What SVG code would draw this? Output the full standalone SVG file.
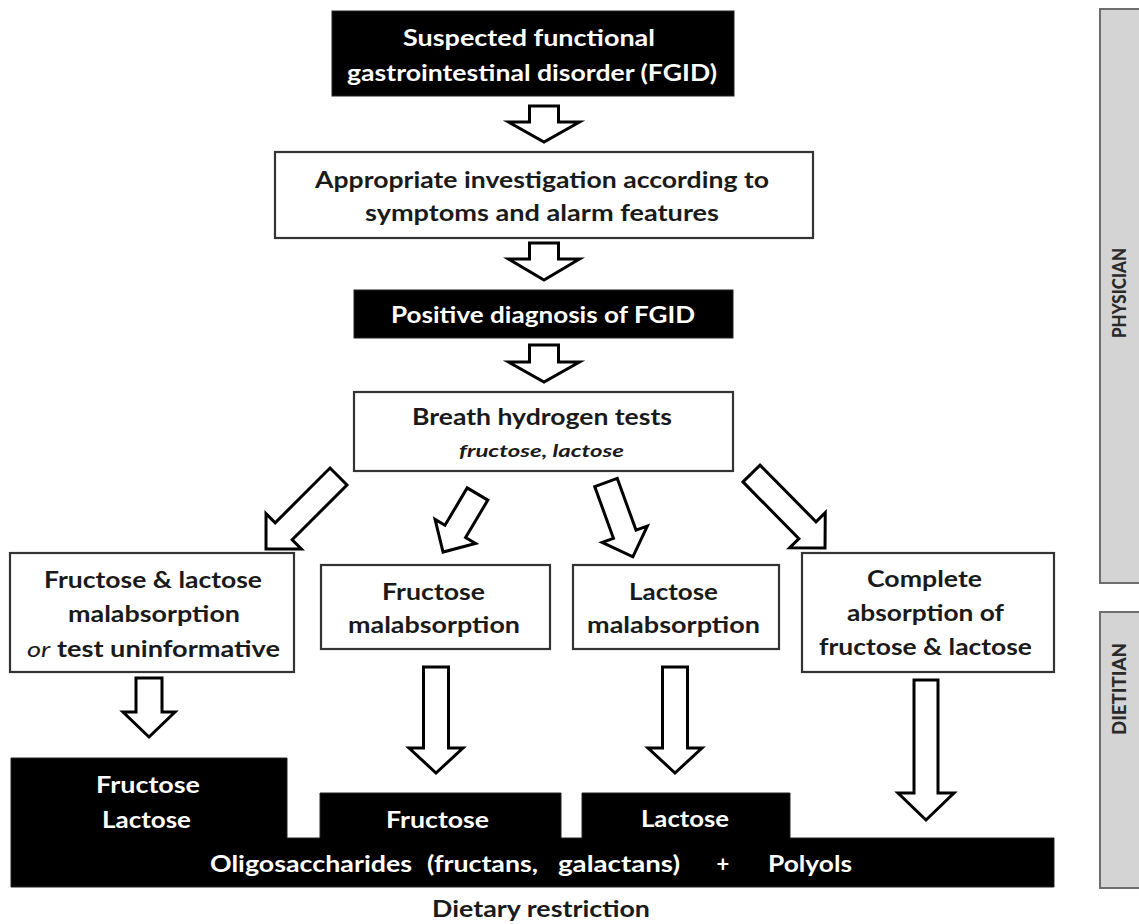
<svg xmlns="http://www.w3.org/2000/svg" width="1139" height="924" viewBox="0 0 1139 924">
<style>
.t{font-family:Lato,"Liberation Sans",sans-serif;font-weight:bold;font-size:22px;fill:#1a1a1a}
.w{fill:#ffffff}
.box{fill:#ffffff;stroke:#333;stroke-width:2.2}
.blk{fill:#000;stroke:#222;stroke-width:1}
.arr{fill:#fff;stroke:#000;stroke-width:3;stroke-linejoin:miter}
.side{fill:#d4d4d4;stroke:#6e6e6e;stroke-width:2}
.st{font-family:Lato,"Liberation Sans",sans-serif;font-weight:900;font-size:18px;fill:#2a2a2a}
</style>
<rect width="1139" height="924" fill="#fff"/>

<g id="side-physician">
<rect class="side" x="1100" y="9" width="50" height="574"/>
<text class="st" transform="translate(1126,293) rotate(-90)" text-anchor="middle" textLength="90" lengthAdjust="spacingAndGlyphs">PHYSICIAN</text>
</g>
<g id="side-dietitian">
<rect class="side" x="1100" y="612" width="50" height="276"/>
<text class="st" transform="translate(1126,689) rotate(-90)" text-anchor="middle" textLength="92" lengthAdjust="spacingAndGlyphs">DIETITIAN</text>
</g>

<g id="n-suspected">
<rect class="blk" x="332" y="11" width="402" height="85"/>
<text class="t w" x="403" y="46" textLength="252" lengthAdjust="spacingAndGlyphs">Suspected functional</text>
<text class="t w" x="347" y="81" textLength="370" lengthAdjust="spacingAndGlyphs">gastrointestinal disorder (FGID)</text>
</g>

<g id="n-investigation">
<rect class="box" x="275" y="152" width="538" height="86"/>
<text class="t" x="315" y="188" textLength="454" lengthAdjust="spacingAndGlyphs">Appropriate investigation according to</text>
<text class="t" x="365" y="221" textLength="354" lengthAdjust="spacingAndGlyphs">symptoms and alarm features</text>
</g>

<g id="n-positive">
<rect class="blk" x="354" y="290" width="379" height="48"/>
<text class="t w" x="391" y="323" textLength="304" lengthAdjust="spacingAndGlyphs">Positive diagnosis of FGID</text>
</g>

<g id="n-breath">
<rect class="box" x="354" y="392" width="379" height="79"/>
<text class="t" x="412" y="425" textLength="260" lengthAdjust="spacingAndGlyphs">Breath hydrogen tests</text>
<text class="t" x="459" y="457" style="font-style:italic;font-size:17px" textLength="165" lengthAdjust="spacingAndGlyphs">fructose, lactose</text>
</g>

<g id="n-both">
<rect class="box" x="10" y="553" width="284" height="119"/>
<text class="t" x="44" y="588" textLength="218" lengthAdjust="spacingAndGlyphs">Fructose &amp; lactose</text>
<text class="t" x="68" y="622" textLength="172" lengthAdjust="spacingAndGlyphs">malabsorption</text>
<text class="t" x="27" y="657" textLength="253" lengthAdjust="spacingAndGlyphs"><tspan style="font-style:italic;font-weight:normal">or</tspan> test uninformative</text>
</g>

<g id="n-fructose">
<rect class="box" x="321" y="565" width="229" height="84"/>
<text class="t" x="382" y="600" textLength="103" lengthAdjust="spacingAndGlyphs">Fructose</text>
<text class="t" x="348" y="633" textLength="172" lengthAdjust="spacingAndGlyphs">malabsorption</text>
</g>

<g id="n-lactose">
<rect class="box" x="573" y="565" width="206" height="84"/>
<text class="t" x="629" y="600" textLength="89" lengthAdjust="spacingAndGlyphs">Lactose</text>
<text class="t" x="587" y="633" textLength="173" lengthAdjust="spacingAndGlyphs">malabsorption</text>
</g>

<g id="n-complete">
<rect class="box" x="802" y="553" width="252" height="119"/>
<text class="t" x="867" y="587" textLength="115" lengthAdjust="spacingAndGlyphs">Complete</text>
<text class="t" x="847" y="621" textLength="157" lengthAdjust="spacingAndGlyphs">absorption of</text>
<text class="t" x="819" y="655" textLength="213" lengthAdjust="spacingAndGlyphs">fructose &amp; lactose</text>
</g>

<g id="n-restriction">
<path d="M11,758 H287 V838 H320 V793 H561 V838 H582 V793 H790 V838 H1054 V887 H11 Z" fill="#000" stroke="#222" stroke-width="1"/>
<text class="t w" x="96" y="793" textLength="104" lengthAdjust="spacingAndGlyphs">Fructose</text>
<text class="t w" x="102" y="828" textLength="89" lengthAdjust="spacingAndGlyphs">Lactose</text>
<text class="t w" x="386" y="828" textLength="103" lengthAdjust="spacingAndGlyphs">Fructose</text>
<text class="t w" x="641" y="827" textLength="88" lengthAdjust="spacingAndGlyphs">Lactose</text>
<text class="t w" x="210" y="872" textLength="202" lengthAdjust="spacingAndGlyphs">Oligosaccharides</text>
<text class="t w" x="427" y="872" textLength="111" lengthAdjust="spacingAndGlyphs">(fructans,</text>
<text class="t w" x="558" y="872" textLength="122" lengthAdjust="spacingAndGlyphs">galactans)</text>
<text class="t w" x="723" y="872" text-anchor="middle">+</text>
<text class="t w" x="768" y="872" textLength="84" lengthAdjust="spacingAndGlyphs">Polyols</text>
<text class="t" x="432" y="917" textLength="218" lengthAdjust="spacingAndGlyphs">Dietary restriction</text>
</g>

<g id="connectors">
<path class="arr" d="M529.5,106 H558.5 V122 H579.5 L544,142 L508.5,122 H529.5 Z"/>
<path class="arr" d="M529.5,243 H558.5 V259 H579.5 L544,280 L508.5,259 H529.5 Z"/>
<path class="arr" d="M529.5,345 H558.5 V362 H579.5 L544,382 L508.5,362 H529.5 Z"/>

<path class="arr" transform="translate(338.5,476.5) rotate(45)" d="M-12,0 H12 V77.5 H25 L0,102.5 L-25,77.5 H-12 Z"/>
<path class="arr" transform="translate(477.5,494) rotate(30.7)" d="M-12,0 H12 V43.5 H23.5 L0,67.5 L-23.5,43.5 H-12 Z"/>
<path class="arr" transform="translate(606,482.5) rotate(-19.9)" d="M-12,0 H12 V55 H24 L0,79 L-24,55 H-12 Z"/>
<path class="arr" transform="translate(751.5,473.5) rotate(-44.6)" d="M-12,0 H12 V79.7 H25 L0,104.7 L-25,79.7 H-12 Z"/>

<path class="arr" d="M136,678 H162 V712 H175 L149,737 L123,712 H136 Z"/>
<path class="arr" d="M423.5,667 H448.5 V748 H463 L436,773 L409,748 H423.5 Z"/>
<path class="arr" d="M662.5,667 H687.5 V748 H702 L675,773 L648,748 H662.5 Z"/>
<path class="arr" d="M914,680 H938 V793 H954 L926,820 L898,793 H914 Z"/>
</g>
</svg>
